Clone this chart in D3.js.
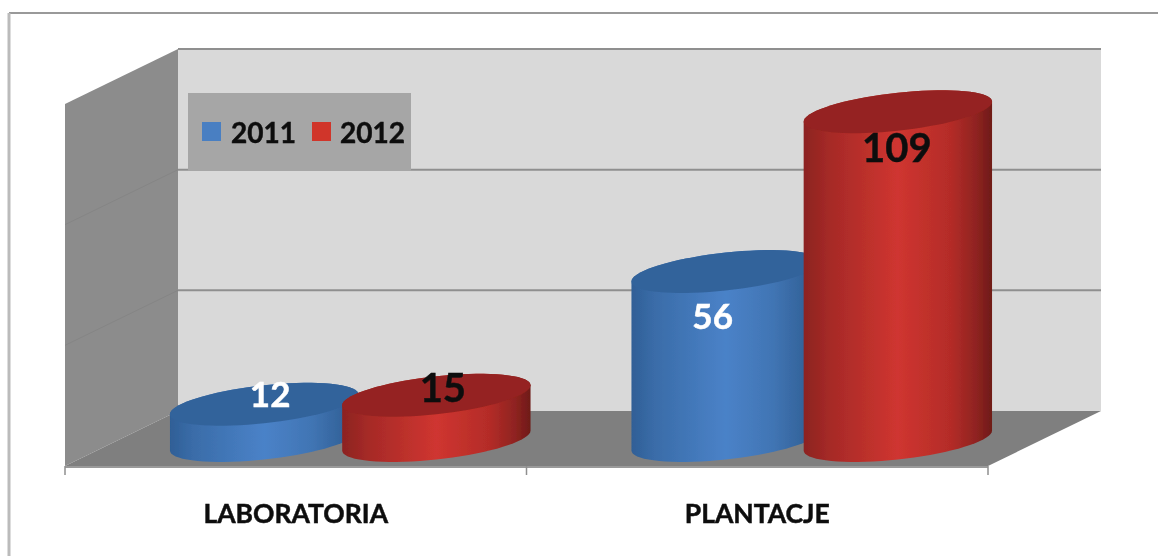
<!DOCTYPE html>
<html>
<head>
<meta charset="utf-8">
<script src="https://cdn.jsdelivr.net/npm/d3@7"></script>
<style>
  html, body { margin: 0; padding: 0; background: #fff; }
  text { font-family: Lato, "Open Sans", sans-serif; font-weight: 700; stroke: currentColor; stroke-width: 0.5px; }
</style>
</head>
<body>
<div id="chart"></div>
<script>
// chart values
const categories = ["LABORATORIA", "PLANTACJE"];
const seriesNames = ["2011", "2012"];
const values2011 = [12, 56];
const values2012 = [15, 109];
const yTicks = [0, 40, 80, 120];

const width = 1158, height = 556;

// front plane of the 3d box, the back plane is shifted by depth
const front = {left: 65, right: 988, bottom: 466, top: 104};
const depth = {x: 113, y: -55};

let svg = d3.select("#chart")
    .append("svg")
    .attr("width", width)
    .attr("height", height)
    .style("display", "block");

let defs = svg.append("defs");

// cylinder side gradients
function addGradient(id, stops) {
    let g = defs.append("linearGradient").attr("id", id)
        .attr("x1", "0%").attr("x2", "100%").attr("y1", "0%").attr("y2", "0%");
    stops.forEach(s => g.append("stop").attr("offset", s[0]).attr("stop-color", s[1]));
}
addGradient("side2011", [[0, "#2f5f96"], [0.12, "#3a6ca8"], [0.5, "#4a82c8"], [0.75, "#4175b4"], [1, "#2c5a8e"]]);
addGradient("side2012", [[0, "#8c2320"], [0.14, "#a62a27"], [0.5, "#cf3530"], [0.78, "#b42c28"], [0.92, "#8e2320"], [1, "#6e1a18"]]);

defs.append("filter").attr("id", "soft")
    .append("feGaussianBlur").attr("stdDeviation", 0.6);
defs.append("filter").attr("id", "softText")
    .append("feGaussianBlur").attr("stdDeviation", 0.35);

const topColor = {"2011": "#33639b", "2012": "#952420"};
const swatchColor = {"2011": "#4a7fc2", "2012": "#d0352c"};
const labelColor = {"2011": "#fff", "2012": "#111"};
const labelSize = {"2011": 35, "2012": 40};

// scales on the front plane
let y = d3.scaleLinear().domain([0, 120]).range([front.bottom, front.top]);
let x0 = d3.scaleBand().domain(categories).range([front.left, front.right]);
let x1 = d3.scaleBand().domain(seriesNames).range([0, x0.bandwidth()]).paddingOuter(0.34);

let root = svg.append("g").attr("filter", "url(#soft)");

// outer frame: only the top and left lines show in the picture
root.append("line")
    .attr("x1", 9).attr("x2", width)
    .attr("y1", 13).attr("y2", 13)
    .attr("stroke", "#999").attr("stroke-width", 2);
root.append("line")
    .attr("x1", 9).attr("x2", 9)
    .attr("y1", 13).attr("y2", height)
    .attr("stroke", "#bbb").attr("stroke-width", 3);

// back wall
root.append("rect")
    .attr("x", front.left + depth.x)
    .attr("y", y(120) + depth.y)
    .attr("width", front.right - front.left)
    .attr("height", y(0) - y(120))
    .attr("fill", "#d9d9d9");

// side wall
root.append("path")
    .attr("d", d3.line()([
        [front.left, y(120)], [front.left + depth.x, y(120) + depth.y],
        [front.left + depth.x, y(0) + depth.y], [front.left, y(0)]
    ]))
    .attr("fill", "#8c8c8c");

// floor
root.append("path")
    .attr("d", d3.line()([
        [front.left, y(0)], [front.left + depth.x, y(0) + depth.y],
        [front.right + depth.x, y(0) + depth.y], [front.right, y(0)]
    ]))
    .attr("fill", "#7f7f7f");

// gridlines on back wall, very faint on the side wall
yTicks.slice(1).forEach(t => {
    root.append("line")
        .attr("x1", front.left + depth.x).attr("x2", front.right + depth.x)
        .attr("y1", y(t) + depth.y).attr("y2", y(t) + depth.y)
        .attr("stroke", "#8f8f8f").attr("stroke-width", 2);
    if (t < 120) {
        root.append("line")
            .attr("x1", front.left).attr("x2", front.left + depth.x)
            .attr("y1", y(t)).attr("y2", y(t) + depth.y)
            .attr("stroke", "#858585").attr("stroke-width", 1);
    }
});

// x axis line and ticks
root.append("line")
    .attr("x1", front.left).attr("x2", front.right)
    .attr("y1", y(0) + 1).attr("y2", y(0) + 1)
    .attr("stroke", "#9a9a9a").attr("stroke-width", 2);
[front.left, front.left + x0.bandwidth(), front.right].forEach(tx => {
    root.append("line")
        .attr("x1", tx).attr("x2", tx)
        .attr("y1", y(0)).attr("y2", y(0) + 9)
        .attr("stroke", "#8f8f8f").attr("stroke-width", 1.5);
});

// legend box
root.append("rect")
    .attr("x", 188).attr("y", 93)
    .attr("width", 223).attr("height", 78)
    .attr("fill", "#a6a6a6");

seriesNames.forEach((name, i) => {
    let lx = 202 + i * 110;
    root.append("rect")
        .attr("x", lx).attr("y", 122)
        .attr("width", 19).attr("height", 19)
        .attr("fill", swatchColor[name]);
});

// cylinders sit at mid depth of the box
const midX = depth.x / 2 - 2, midY = depth.y / 2 + 2;
const radius = x1.bandwidth() * 0.547;
const flat = 19, tilt = 10;   // ellipse shape of the cylinder caps

function capPoint(cx, cy, a) {
    let t = a * Math.PI / 180;
    return [cx + radius * Math.cos(t), cy + flat * Math.sin(t) - tilt * Math.cos(t)];
}

function capPath(cx, cy) {
    return d3.line()(d3.range(0, 361, 5).map(a => capPoint(cx, cy, a))) + "Z";
}

// body outline: lower half of bottom cap and upper half of top cap
function sidePath(cx, cyTop, cyBottom) {
    let lower = d3.range(0, 181, 5).map(a => capPoint(cx, cyBottom, a));
    let upper = d3.range(180, 361, 5).map(a => capPoint(cx, cyTop, a));
    return d3.line()(lower.concat(upper)) + "Z";
}

let bars = [];
categories.forEach((c, ci) => {
    bars.push({cat: c, name: "2011", value: values2011[ci]});
    bars.push({cat: c, name: "2012", value: values2012[ci]});
});

function barX(d) {
    return x0(d.cat) + x1(d.name) + x1.bandwidth() / 2 + midX;
}

let barGroups = root.selectAll(".bar")
    .data(bars)
    .enter().append("g")
    .attr("class", "bar");

barGroups.append("path")
    .attr("d", d => sidePath(barX(d), y(d.value) + midY, y(0) + midY))
    .attr("fill", d => "url(#side" + d.name + ")");

barGroups.append("path")
    .attr("d", d => capPath(barX(d), y(d.value) + midY))
    .attr("fill", d => topColor[d.name]);

// label nudges, the labels are not centred on the bars in the original
const labelNudge = {
    "LABORATORIA2011": [6, 3],
    "LABORATORIA2012": [6.5, 7],
    "PLANTACJE2011": [-13, 57],
    "PLANTACJE2012": [-1, 50]
};

let texts = svg.append("g").attr("filter", "url(#softText)");

texts.selectAll(".value")
    .data(bars)
    .enter().append("text")
    .attr("class", "value")
    .attr("x", d => barX(d) + labelNudge[d.cat + d.name][0])
    .attr("y", d => y(d.value) + midY + labelNudge[d.cat + d.name][1])
    .attr("text-anchor", "middle")
    .attr("font-size", d => labelSize[d.name])
    .style("color", d => labelColor[d.name])
    .attr("fill", d => labelColor[d.name])
    .text(d => d.value);

// legend text
seriesNames.forEach((name, i) => {
    texts.append("text")
        .attr("x", 231 + i * 109)
        .attr("y", 143)
        .attr("font-size", 28)
        .style("color", "#111")
        .attr("fill", "#111")
        .text(name);
});

// category labels
texts.selectAll(".cat")
    .data(categories)
    .enter().append("text")
    .attr("class", "cat")
    .attr("x", d => x0(d) + x0.bandwidth() / 2)
    .attr("y", 523)
    .attr("text-anchor", "middle")
    .attr("font-size", 26.5)
    .style("color", "#111")
    .attr("fill", "#111")
    .text(d => d);
</script>
</body>
</html>
